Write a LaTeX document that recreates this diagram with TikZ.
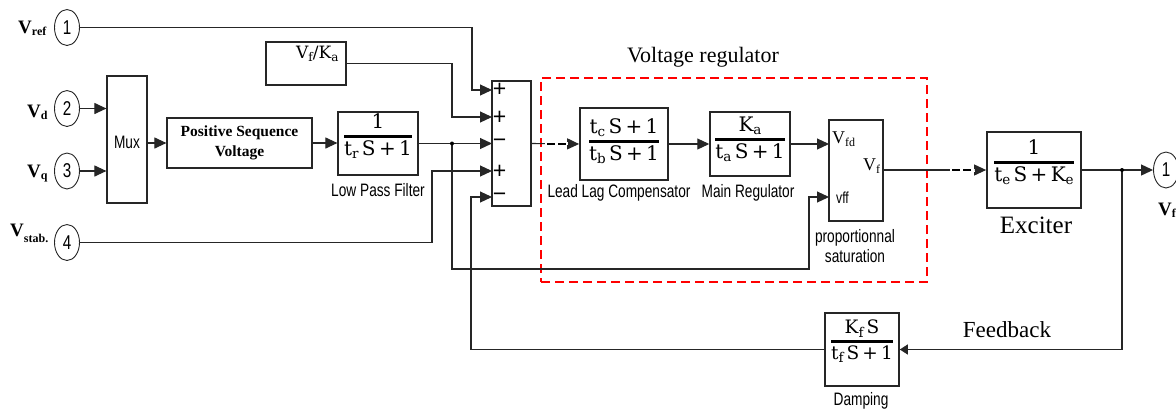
\documentclass[tikz,border=0pt]{standalone}
\usepackage{fontspec}
\newfontfamily\tms{Liberation Serif}
\newfontfamily\mth{DejaVu Serif}
\newfontfamily\ars{Liberation Sans}
\newfontfamily\nar[FakeStretch=0.76]{Liberation Sans}
\usetikzlibrary{arrows.meta,shapes.geometric}
\newcommand{\sbs}[2][4pt]{\raisebox{-#1}{\fontsize{12}{12}\selectfont #2}}
\newcommand{\lo}[1]{\raisebox{-3.5pt}{\fontsize{13.5}{14}\selectfont #1}}
\newcommand{\fr}[2]{\vbox{\halign{\hfil##\hfil\cr \strut#1\cr\noalign{\kern0pt\hrule height 2.2pt\kern1pt}\strut#2\cr}}}
\tikzset{
  wire/.style={line width=1.1pt, draw=black!85},
  arr/.style={-{Triangle[length=12pt,width=11pt]}},
  sarr/.style={-{Triangle[length=8pt,width=10pt]}},
  blk/.style={draw=black!85, line width=1.2pt, inner sep=0pt, rectangle},
  port/.style={draw=black!85, line width=0.9pt, ellipse, minimum width=25pt, minimum height=36pt, inner sep=0pt, font=\nar\fontsize{20}{20}\selectfont},
  frac/.style={inner sep=0pt, anchor=center, font=\mth\fontsize{20}{24}\selectfont},
  lab/.style={inner sep=0pt, anchor=base, font=\nar\fontsize{18}{20}\selectfont},
  sig/.style={inner sep=0pt, font=\ars\fontsize{23}{23}\selectfont},
  inlab/.style={inner sep=0pt, anchor=base west, font=\tms\fontsize{18}{18}\selectfont},
  vlab/.style={inner sep=0pt, anchor=base west, font=\tms\bfseries\fontsize{19}{20}\selectfont},
  title/.style={inner sep=0pt, anchor=base, font=\tms\fontsize{22}{24}\selectfont},
  jdot/.style={circle, fill=black, inner sep=0pt, minimum size=4pt},
  gap/.style={draw=white, line width=3pt},
  dsh/.style={draw=black, line width=2pt, dash pattern=on 8pt off 3pt},
  regbox/.style={draw=red, line width=1.4pt, dash pattern=on 9pt off 5pt, inner sep=0pt, rectangle}
}
\begin{document}
\begin{tikzpicture}[x=1pt,y=-1pt]
\useasboundingbox (0,0) rectangle (1176,408);
\clip (0,0) rectangle (1176,408);
\fill[white] (0,0) rectangle (1176,408);

% ports
\node[port] (vref) at (67,27.5) {1};
\node[port] (vd) at (67,108.5) {2};
\node[port] (vq) at (67,171) {3};
\node[port] (vstab) at (67,242.5) {4};
\node[port] (vout) at (1166,170) {1};
\node[vlab] (lref) at (18,33) {V\sbs[2pt]{ref}};
\node[vlab] (ld) at (27,117) {V\sbs[2pt]{d}};
\node[vlab] (lq) at (27,177) {V\sbs[2pt]{q}};
\node[vlab] (lstab) at (10,236) {V\sbs[6pt]{stab.}};
\node[vlab] (lout) at (1158,215) {V\sbs[2pt]{f}};

% blocks
\node[blk, minimum width=80pt, minimum height=43pt] (vfka) at (306,63.5) {};
\node[inner sep=0pt, anchor=base west, font=\mth\fontsize{17}{20}\selectfont] (vfkat) at (296,58) {V{\fontsize{12}{12}\selectfont\raisebox{-3pt}{f}}/K{\fontsize{12}{12}\selectfont\raisebox{-3pt}{a}}};
\node[blk, minimum width=40pt, minimum height=127pt] (mux) at (127,139.5) {};
\node[lab] (muxt) at (127,148) {Mux};
\node[blk, minimum width=145pt, minimum height=50pt, align=center, font=\tms\bfseries\fontsize{15.5}{20}\selectfont] (psv) at (239.5,143) {Positive Sequence\\Voltage};
\node[blk, minimum width=80pt, minimum height=63pt] (lpf) at (378,143.5) {};
\node[frac] (lpff) at (378,137) {\fr{1}{t\lo{r}\,S\,+\,1}};
\node[lab] (lpft) at (378,196) {Low Pass Filter};

\node[blk, minimum width=39pt, minimum height=125pt] (sum) at (511.5,143.5) {};
\node[sig] (g1) at (499.5,90) {+};
\node[sig] (g2) at (499.5,117.5) {+};
\node[sig] (g3) at (499.5,143.5) {−};
\node[sig] (g4) at (499.5,171.5) {+};
\node[sig] (g5) at (499.5,197.5) {−};

\node[blk, line width=1.8pt, minimum width=88pt, minimum height=72pt] (ll) at (624,144) {};
\node[frac] (llf) at (624,142) {\fr{t\lo{c}\,S\,+\,1}{t\lo{b}\,S\,+\,1}};
\node[lab] (llt) at (619,197) {Lead Lag Compensator};

\node[blk, line width=1.5pt, minimum width=80pt, minimum height=64pt] (mr) at (750,144) {};
\node[frac] (mrf) at (750,140) {\fr{K\lo{a}}{t\lo{a}\,S\,+\,1}};
\node[lab] (mrt) at (748,197) {Main Regulator};

\node[blk, minimum width=54pt, minimum height=101pt] (sat) at (856,170.5) {};
\node[inlab] (sfd) at (832,143) {V\sbs[3pt]{fd}};
\node[inlab] (sf) at (863,170) {V\sbs[3pt]{f}};
\node[lab, anchor=base west, font=\nar\fontsize{16}{18}\selectfont] (sff) at (836,203) {vff};
\node[lab] (satt1) at (855,242) {proportionnal};
\node[lab] (satt2) at (855,262) {saturation};

\node[blk, line width=1.8pt, minimum width=94pt, minimum height=76pt] (exc) at (1034,170) {};
\node[frac] (excf) at (1034,163) {\fr{1}{t\lo{e}\,S\,+\,K\lo{e}}};
\node[title, font=\tms\fontsize{25}{26}\selectfont] (exct) at (1036,233) {Exciter};

\node[blk, line width=1.6pt, minimum width=74pt, minimum height=73pt] (damp) at (862,349.5) {};
\node[frac, font=\mth\fontsize{18.5}{22}\selectfont] (dampf) at (862,342) {\fr{K\lo{f}\,S}{t\lo{f}\,S\,+\,1}};
\node[lab] (dampt) at (861,405) {Damping};
\node[title, font=\tms\fontsize{23}{24}\selectfont] (fbt) at (1007,337) {Feedback};

\node[regbox, minimum width=386pt, minimum height=204pt] (reg) at (734,180) {};
\node[title] (regt) at (703,62) {Voltage regulator};

% ports of sum and saturation
\coordinate (s1) at (492,90);
\coordinate (s2) at (492,117);
\coordinate (s3) at (492,143.5);
\coordinate (s4) at (492,171);
\coordinate (s5) at (492,197);
\coordinate (satfd) at (829,144);
\coordinate (satff) at (829,197);
\coordinate (sato) at (883,170);
\coordinate (j1) at (452,143.5);
\coordinate (j2) at (1122,170);

% wires
\draw[wire,arr] (vd.east) -- (vd.east -| mux.west);
\draw[wire,arr] (vq.east) -- (vq.east -| mux.west);
\draw[wire,arr] (mux.east |- psv.west) -- (psv.west);
\draw[wire,arr] (psv.east) -- (psv.east -| lpf.west);
\draw[wire,arr] (lpf.east) -- (s3);
\draw[wire,arr] (vref.east) -| (472,90) -- (s1);
\draw[wire,arr] (vfka.east) -| (452,117) -- (s2);
\draw[wire,arr] (vstab.east) -| (432,171) -- (s4);
\draw[wire,arr] (damp.west) -| (471,197) -- (s5);
\draw[wire,arr] (j1) |- (809,269) |- (satff);
\draw[wire,arr] (sum.east) -- (ll.west);
\draw[wire,arr] (ll.east) -- (mr.west);
\draw[wire,arr] (mr.east) -- (satfd);
\draw[wire,arr] (sato) -- (sato -| exc.west);
\draw[wire,arr] (exc.east) -- (vout.west);
\draw[wire,sarr] (j2) |- (damp.east);
\node[jdot] (d1) at (j1) {};
\node[jdot] (d2) at (j2) {};

% broken line segments
\draw[gap] (545,143.5) -- (568,143.5);
\draw[dsh] (547,143.5) -- (567,143.5);
\draw[gap] (950,170) -- (975,170);
\draw[dsh] (952,170) -- (974,170);
\end{tikzpicture}
\end{document}
